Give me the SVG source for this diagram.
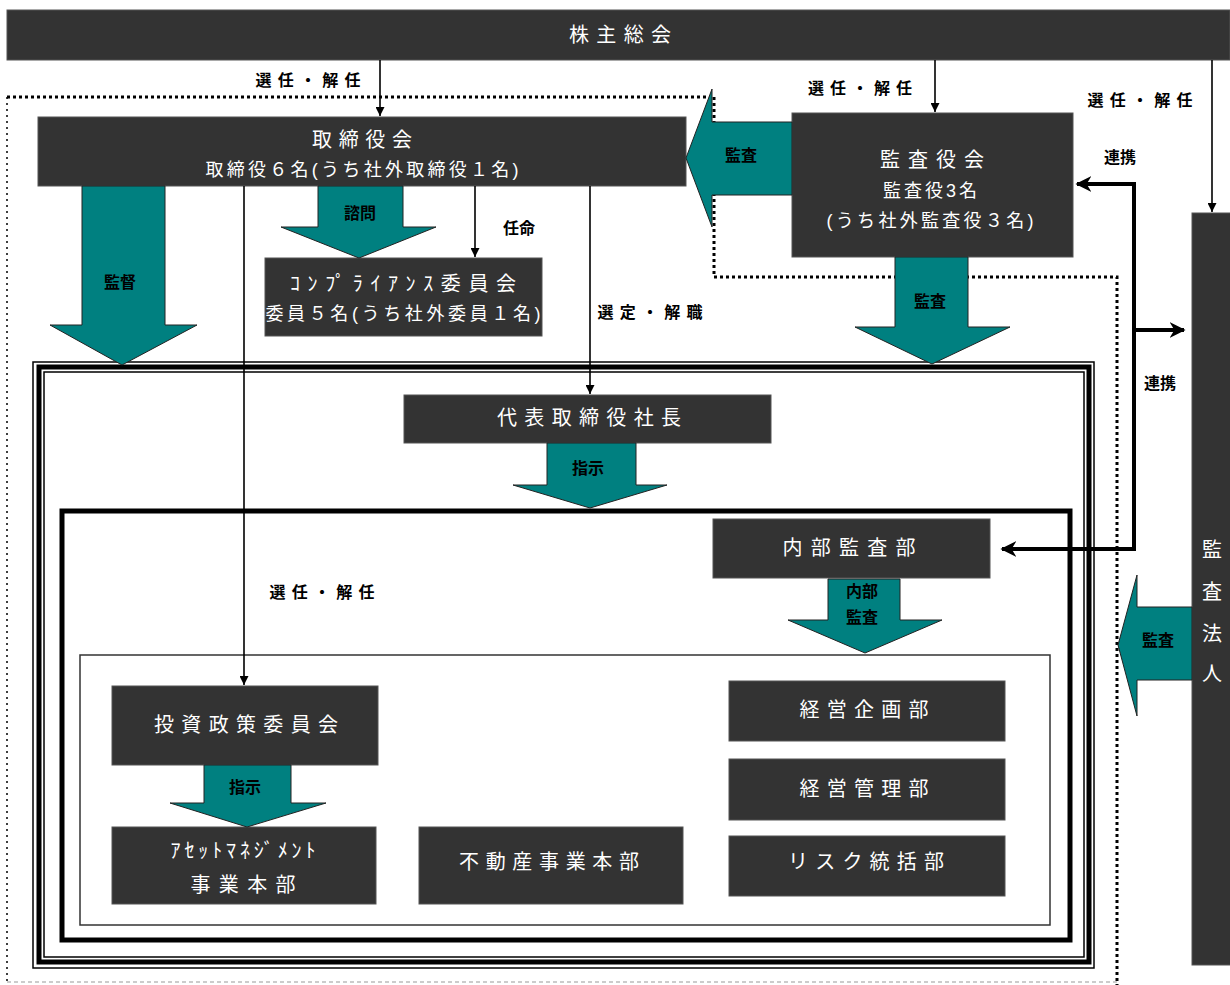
<svg xmlns="http://www.w3.org/2000/svg" width="1230" height="985" viewBox="0 0 1230 985">
<defs>
<style>
.box{fill:#333333;stroke:#555;stroke-width:1}
.bt{fill:#ffffff;font-family:"Liberation Sans","Noto Sans CJK JP",sans-serif;font-size:20px;text-anchor:middle;dominant-baseline:central}
.bs{font-size:18px}
.lb{fill:#000;font-family:"Liberation Sans","Noto Sans CJK JP",sans-serif;font-size:16px;font-weight:bold;text-anchor:middle;dominant-baseline:central}
.teal{fill:#008080;stroke:#222;stroke-width:1}
.ln{stroke:#000;stroke-width:1.6;fill:none}
.thick{stroke:#000;stroke-width:4;fill:none}
.dotB{stroke:#000;stroke-width:3;fill:none;stroke-dasharray:3 3}
.dotT{stroke:#000;stroke-width:1.5;fill:none;stroke-dasharray:2 4}
.dash{stroke:#999;stroke-width:1;fill:none;stroke-dasharray:4 3}
</style>
<marker id="ah" viewBox="0 0 10 10" refX="10" refY="5" markerWidth="9" markerHeight="9" markerUnits="userSpaceOnUse" orient="auto">
<path d="M0,0 L10,5 L0,10 z" fill="#000"/>
</marker>
<marker id="ahT" viewBox="0 0 10 10" refX="9" refY="5" markerWidth="16" markerHeight="16" markerUnits="userSpaceOnUse" orient="auto-start-reverse">
<path d="M0,0 L10,5 L0,10 L3,5 z" fill="#000"/>
</marker>
</defs>
<rect width="1230" height="985" fill="#ffffff"/>

<!-- boundary lines -->
<g id="boundaries">
<path class="dotB" d="M712,97 H7"/>
<path class="dotT" d="M7,97 V985"/>
<path class="dotB" d="M714,97 V277 H1117 V985"/>
<path class="dash" d="M7,982 H1117"/>
<rect x="33" y="362" width="1061" height="606" fill="none" stroke="#000" stroke-width="1.5"/>
<rect x="39" y="367" width="1050" height="595" fill="none" stroke="#000" stroke-width="5"/>
<rect x="44" y="372" width="1040" height="585" fill="none" stroke="#000" stroke-width="1.5"/>
<rect x="62" y="511" width="1008" height="429" fill="none" stroke="#000" stroke-width="5"/>
<rect x="80" y="655" width="970" height="270" fill="none" stroke="#333" stroke-width="1.5"/>
</g>

<g id="shareholders">
<rect class="box" x="7" y="10" width="1223" height="50"/>
<text class="bt" x="620" y="35" textLength="102" lengthAdjust="spacing">株主総会</text>
</g>

<g id="board">
<rect class="box" x="38" y="117" width="648" height="69"/>
<text class="bt" x="362" y="140" textLength="100" lengthAdjust="spacing">取締役会</text>
<text class="bt bs" x="362" y="170" textLength="313" lengthAdjust="spacing">取締役６名(うち社外取締役１名)</text>
</g>

<g id="audit-board">
<rect class="box" x="792" y="113" width="281" height="144"/>
<text class="bt" x="932" y="160" textLength="104" lengthAdjust="spacing">監査役会</text>
<text class="bt bs" x="930" y="191" textLength="94" lengthAdjust="spacing">監査役3名</text>
<text class="bt bs" x="930" y="221" textLength="207" lengthAdjust="spacing">(うち社外監査役３名)</text>
</g>

<g id="auditor">
<rect class="box" x="1192" y="213" width="40" height="752"/>
<text class="bt" x="1212" y="550">監</text>
<text class="bt" x="1212" y="592">査</text>
<text class="bt" x="1212" y="634">法</text>
<text class="bt" x="1212" y="674">人</text>
</g>

<g id="compliance">
<rect class="box" x="265" y="258" width="277" height="78"/>
<text class="bt" x="403" y="284" textLength="226" lengthAdjust="spacing">ｺﾝﾌﾟﾗｲｱﾝｽ委員会</text>
<text class="bt bs" x="403" y="314" textLength="275" lengthAdjust="spacing">委員５名(うち社外委員１名)</text>
</g>

<g id="president">
<rect class="box" x="404" y="395" width="367" height="48"/>
<text class="bt" x="589" y="418" textLength="184" lengthAdjust="spacing">代表取締役社長</text>
</g>

<g id="internal-audit">
<rect class="box" x="713" y="519" width="277" height="59"/>
<text class="bt" x="849" y="548" textLength="133" lengthAdjust="spacing">内部監査部</text>
</g>

<g id="investment-committee">
<rect class="box" x="112" y="686" width="266" height="79"/>
<text class="bt" x="246" y="725" textLength="184" lengthAdjust="spacing">投資政策委員会</text>
</g>

<g id="asset-management">
<rect class="box" x="112" y="827" width="264" height="77"/>
<text class="bt" x="243" y="851" textLength="145" lengthAdjust="spacing">ｱｾｯﾄﾏﾈｼﾞﾒﾝﾄ</text>
<text class="bt" x="243" y="885" textLength="105" lengthAdjust="spacing">事業本部</text>
</g>

<g id="real-estate">
<rect class="box" x="419" y="827" width="264" height="77"/>
<text class="bt" x="549" y="862" textLength="180" lengthAdjust="spacing">不動産事業本部</text>
</g>

<g id="planning">
<rect class="box" x="729" y="681" width="276" height="60"/>
<text class="bt" x="864" y="710" textLength="129" lengthAdjust="spacing">経営企画部</text>
</g>

<g id="management">
<rect class="box" x="729" y="759" width="276" height="61"/>
<text class="bt" x="864" y="789" textLength="129" lengthAdjust="spacing">経営管理部</text>
</g>

<g id="risk">
<rect class="box" x="729" y="836" width="276" height="60"/>
<text class="bt" x="866" y="862" textLength="156" lengthAdjust="spacing">リスク統括部</text>
</g>

<g id="connectors">
<!-- thin arrows -->
<path class="ln" d="M380,60 V116" marker-end="url(#ah)"/>
<path class="ln" d="M935,60 V112" marker-end="url(#ah)"/>
<path class="ln" d="M1212,60 V212" marker-end="url(#ah)"/>
<path class="ln" d="M475,186 V257" marker-end="url(#ah)"/>
<path class="ln" d="M244,186 V685" marker-end="url(#ah)"/>
<path class="ln" d="M590,186 V394" marker-end="url(#ah)"/>
<!-- 連携 -->
<path class="thick" d="M1077,184 H1134 V549 H1002" marker-start="url(#ahT)" marker-end="url(#ahT)"/>
<path class="thick" d="M1134,330 H1184" marker-end="url(#ahT)"/>
<!-- block arrows -->
<polygon class="teal" points="82,186 165,186 165,325 197,325 122,365 50,325 82,325"/>
<polygon class="teal" points="318,186 403,186 403,227 436,227 359,258 281,227 318,227"/>
<polygon class="teal" points="895,257 968,257 968,327 1010,327 932,364 855,327 895,327"/>
<polygon class="teal" points="547,443 636,443 636,485 667,485 590,508 513,485 547,485"/>
<polygon class="teal" points="828,579 900,579 900,620 942,620 865,653 788,620 828,620"/>
<polygon class="teal" points="204,765 291,765 291,803 326,803 247,827 170,803 204,803"/>
<polygon class="teal" points="792,122 712,122 712,89 686,158 712,227 712,195 792,195"/>
<polygon class="teal" points="1192,607 1137,607 1137,575 1118,645 1137,716 1137,680 1192,680"/>
<!-- labels -->
<text class="lb" x="308" y="80" textLength="105" lengthAdjust="spacing">選任・解任</text>
<text class="lb" x="860" y="88" textLength="104" lengthAdjust="spacing">選任・解任</text>
<text class="lb" x="1140" y="100" textLength="105" lengthAdjust="spacing">選任・解任</text>
<text class="lb" x="519" y="228">任命</text>
<text class="lb" x="650" y="312" textLength="105" lengthAdjust="spacing">選定・解職</text>
<text class="lb" x="322" y="592" textLength="105" lengthAdjust="spacing">選任・解任</text>
<text class="lb" x="1120" y="157">連携</text>
<text class="lb" x="1160" y="383">連携</text>
<text class="lb" x="120" y="282">監督</text>
<text class="lb" x="360" y="213">諮問</text>
<text class="lb" x="741" y="155">監査</text>
<text class="lb" x="930" y="301">監査</text>
<text class="lb" x="588" y="468">指示</text>
<text class="lb" x="862" y="591">内部</text>
<text class="lb" x="862" y="617">監査</text>
<text class="lb" x="245" y="787">指示</text>
<text class="lb" x="1158" y="640">監査</text>
</g>
</svg>
